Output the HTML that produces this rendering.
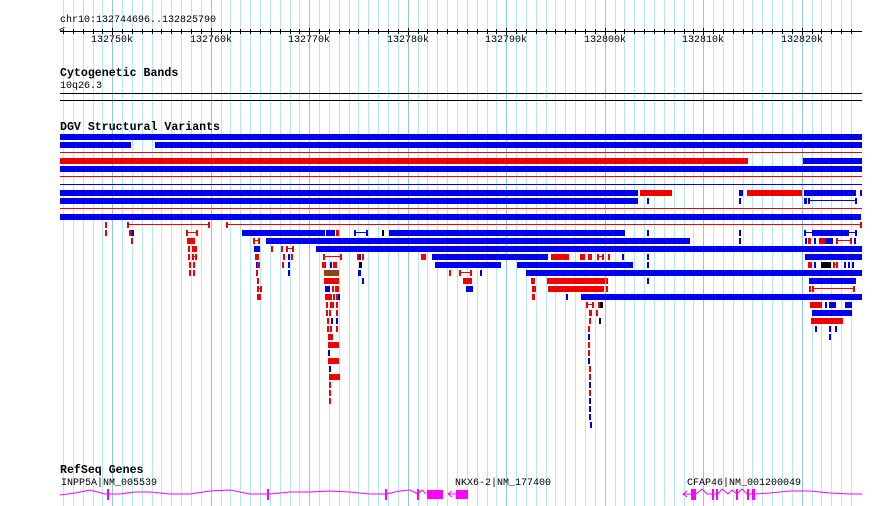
<!DOCTYPE html>
<html><head><meta charset="utf-8"><style>
body{margin:0;background:#fff;width:890px;height:506px;overflow:hidden;position:relative;font-family:"Liberation Mono",monospace;}
.a{position:absolute}
.t{position:absolute;font-size:10px;line-height:11px;color:#000;white-space:pre}
.h{position:absolute;font-size:11.6px;font-weight:bold;line-height:12px;white-space:pre}
</style></head><body>
<div id="g"></div>
<div class="t" style="left:60px;top:15px">chr10:132744696..132825790</div>
<div class="h" style="left:60px;top:68px">Cytogenetic Bands</div>
<div class="t" style="left:60px;top:81px">10q26.3</div>
<div class="a" style="left:60px;top:93px;width:802px;height:1px;background:#000"></div>
<div class="a" style="left:60px;top:100px;width:802px;height:1px;background:#000"></div>
<div class="h" style="left:60px;top:122px">DGV Structural Variants</div>
<div class="h" style="left:60px;top:465px">RefSeq Genes</div>
<div class="t" style="left:61px;top:478px">INPP5A|NM_005539</div>
<div class="t" style="left:455px;top:478px">NKX6-2|NM_177400</div>
<div class="t" style="left:687px;top:478px">CFAP46|NM_001200049</div>
<svg class="a" style="left:0;top:0" width="890" height="506">
<polyline fill="none" stroke="#f0f" stroke-width="1" points="60,495 75,493 90,490 105,494 120,494 135,492 150,492 170,494 190,494 210,491 230,490 250,494 270,494 290,492 310,492 330,491 350,492 370,494 386,494 400,491 410,490 418,494 422,490 426,494"/>
<rect x="107" y="489" width="2" height="11" fill="#f0f"/>
<rect x="267" y="489" width="2" height="11" fill="#f0f"/>
<rect x="385" y="489" width="2" height="11" fill="#f0f"/>
<rect x="417" y="489" width="2" height="11" fill="#f0f"/>
<rect x="427" y="490" width="16" height="9" fill="#f0f"/>
<polyline fill="none" stroke="#f0f" points="452,491 448,494 452,497"/>
<line x1="448" y1="494" x2="456" y2="494" stroke="#f0f"/>
<rect x="456" y="490" width="12" height="9" fill="#f0f"/>
<polyline fill="none" stroke="#f0f" points="687,491 683,494 687,497"/>
<polyline fill="none" stroke="#f0f" points="683,494 691,494 696,494 702,489 707,494 712,494 718,494 722,489 728,494 732,490 737,494 742,489 747,494 755,494 770,493 790,491 810,491 830,493 850,494 862,494"/>
<rect x="691" y="489" width="5" height="11" fill="#f0f"/>
<rect x="712" y="489" width="2" height="11" fill="#f0f"/>
<rect x="716" y="489" width="2" height="11" fill="#f0f"/>
<rect x="736" y="489" width="2" height="11" fill="#f0f"/>
<rect x="747" y="489" width="2" height="11" fill="#f0f"/>
<rect x="752" y="489" width="3" height="11" fill="#f0f"/>
</svg>
<div id="v"></div>
<script>
var s=60,p=0.00985,o=132744696,h='';
for(var k=132745;k<=132825;k++){var x=Math.round(s+(k*1000-o)*p);var d=k%10==0;
h+='<div class="a" style="left:'+x+'px;top:0;width:1px;height:506px;background:'+(d?'#8cc8e8':'#b4eaf0')+'"></div>';}
h+='<div class="a" style="left:60px;top:31px;width:802px;height:1px;background:#000"></div>';
h+='<div class="t" style="left:59px;top:26px;font-size:10px">&lt;</div>';
for(var k=132745;k<=132825;k++){var x=Math.round(s+(k*1000-o)*p);var d=k%10==0;
h+='<div class="a" style="left:'+x+'px;top:'+(d?28:29)+'px;width:1px;height:'+(d?7:5)+'px;background:#000"></div>';
if(d)h+='<div class="t" style="left:'+(x-24)+'px;top:35px;width:48px;text-align:center">'+k+'k</div>';}
document.getElementById('g').innerHTML=h;
var B='#0000f0',R='#f00000',K='#000',N='#8b4513';
var D=[
[60,862,134,B],[60,131,142,B],[155,862,142,B],[60,862,150,R,'t'],[60,748,158,R],[803,862,158,B],
[60,862,166,B],[60,862,174,R,'t'],[60,862,182,B,'t'],
[60,638,190,B],[640,672,190,R],[739,743,190,B],[747,802,190,R],[804,856,190,B],[860,862,190,B],
[60,638,198,B],[647,649,198,B],[739,741,198,B],[804,807,198,B],[808,857,198,B,'l'],
[60,862,206,R,'t'],[60,861,214,B],
[105,106,222,R],[127,210,222,R,'l'],[226,862,222,R,'l'],
[105,106,230,R],[129,131,230,R],[131,134,230,B],[186,198,230,R,'l'],[242,325,230,B],[326,335,230,B],[336,339,230,R],[354,368,230,B,'l'],[382,384,230,K],[389,625,230,B],[647,649,230,B],[739,741,230,B],[804,814,230,B,'l'],[814,847,230,B],[847,857,230,B,'l'],
[131,132,238,R],[187,195,238,R],[253,260,238,R,'l'],[266,690,238,B],[739,741,238,B],[805,806,238,B],[808,811,238,R],[814,815,238,B],[819,825,238,R],[825,833,238,B],[836,852,238,R,'l'],[854,856,238,B],
[188,190,246,R],[192,197,246,R],[254,260,246,B],[271,272,246,R],[281,282,246,R],[286,294,246,R,'l'],[316,862,246,B],
[188,190,254,R],[192,197,254,R,'l'],[255,259,254,R],[283,285,254,R],[288,290,254,B],[291,292,254,R],[323,342,254,R,'l'],[357,359,254,R],[359,361,254,B],[362,363,254,R],[421,426,254,R],[432,548,254,B],[551,569,254,R],[580,585,254,R],[588,592,254,R,'l'],[597,604,254,R,'l'],[608,609,254,R],[622,624,254,B],[647,649,254,B],[805,862,254,B],
[189,191,262,R],[193,195,262,R],[256,257,262,B],[257,260,262,R],[282,283,262,R],[288,290,262,B],[322,326,262,R,'l'],[330,332,262,B],[333,337,262,R],[359,362,262,K],[435,501,262,B],[517,633,262,B],[647,649,262,B],[808,812,262,R],[814,816,262,B],[821,831,262,K],[833,838,262,R,'l'],[844,845,262,B],[848,849,262,B],[852,853,262,B],
[189,191,270,R],[193,195,270,R],[256,258,270,R],[288,290,270,B],[324,339,270,N],[358,361,270,B],[449,451,270,R],[459,472,270,R,'l'],[480,482,270,B],[526,862,270,B],
[257,259,278,R],[324,339,278,R],[362,363,278,B],[463,472,278,R],[531,535,278,R,'l'],[547,605,278,R],[606,608,278,R],[647,649,278,B],[809,856,278,B],
[257,262,286,R,'l'],[325,330,286,B],[332,333,286,R],[335,339,286,R],[466,473,286,B],[532,536,286,R],[548,604,286,R],[606,607,286,R],[809,810,286,R],[812,855,286,R,'l'],
[257,261,294,R],[325,332,294,R],[333,334,294,R],[336,338,294,R],[338,340,294,B],[532,535,294,R],[566,567,294,B],[581,862,294,B],
[326,328,302,R],[330,334,302,R],[336,337,302,R],[586,594,302,R,'l'],[598,599,302,R],[600,603,302,K],[810,822,302,R],[825,826,302,B],[829,836,302,B],[845,852,302,B],
[326,328,310,R],[329,331,310,R],[336,337,310,R],[589,592,310,R],[596,598,310,R],[812,852,310,B],
[327,328,318,R],[331,332,318,B],[336,337,318,B],[589,590,318,R],[599,600,318,K],[811,843,318,R],
[327,328,326,R],[330,331,326,R],[336,337,326,R],[588,590,326,R],[815,816,326,B],[829,830,326,B],[835,836,326,B],
[328,333,334,R],[588,590,334,B],[829,830,334,B],
[328,339,342,R],[588,589,342,R],[328,329,350,B],[588,589,350,R],[328,339,358,R],[588,590,358,B],
[329,330,366,B],[589,590,366,R],[329,340,374,R],[589,590,374,R],[329,330,382,R],[589,590,382,B],
[329,330,390,R],[589,590,390,R],[329,330,398,R],[589,590,398,B],[589,591,406,B],[589,591,414,B],[590,591,422,B]];
h='';
D.forEach(function(d){var x1=d[0],x2=d[1],y=d[2],c=d[3],t=d[4];
if(t=='t'){h+='<div class="a" style="left:'+x1+'px;top:'+(y+2)+'px;width:'+(x2-x1)+'px;height:1px;background:'+c+'"></div>';}
else if(t=='l'){h+='<div class="a" style="left:'+x1+'px;top:'+(y+2)+'px;width:'+(x2-x1)+'px;height:1px;background:'+c+'"></div>';
h+='<div class="a" style="left:'+x1+'px;top:'+y+'px;width:2px;height:6px;background:'+c+'"></div>';
h+='<div class="a" style="left:'+(x2-2)+'px;top:'+y+'px;width:2px;height:6px;background:'+c+'"></div>';}
else h+='<div class="a" style="left:'+x1+'px;top:'+y+'px;width:'+Math.max(2,x2-x1)+'px;height:6px;background:'+c+'"></div>';});
document.getElementById('v').innerHTML=h;
</script>
</body></html>
